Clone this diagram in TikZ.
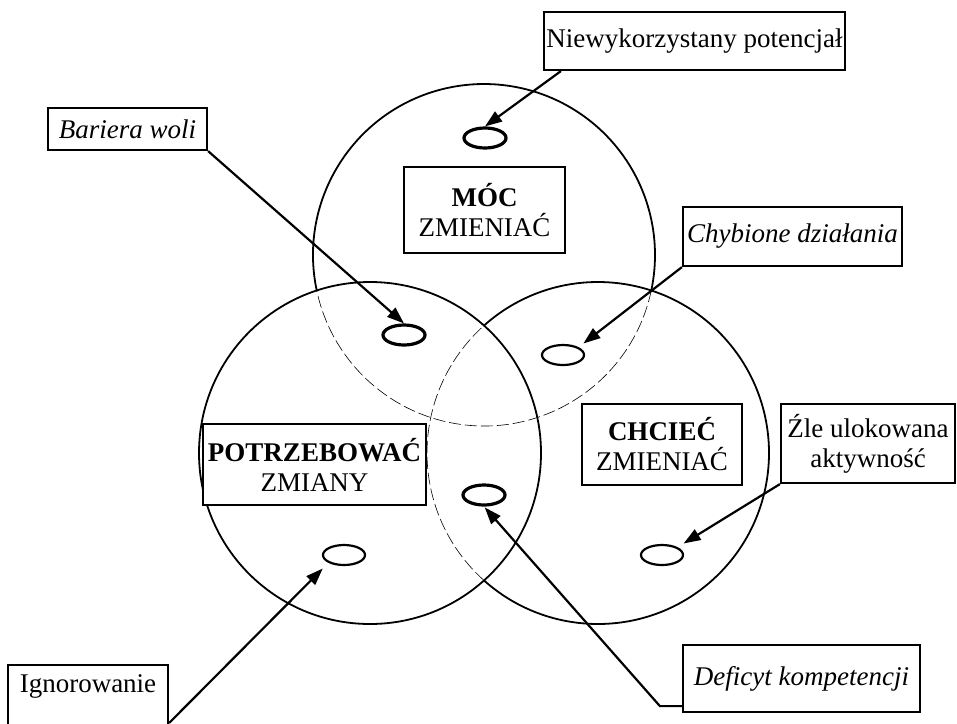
\documentclass[tikz,border=0pt]{standalone}
\usepackage{fontspec}
\setmainfont{Liberation Serif}
\usetikzlibrary{arrows.meta,shapes.geometric}
\begin{document}
\begin{tikzpicture}[x=1pt,y=-1pt,
  circ/.style={line width=1.8pt},
  hid/.style={line width=0.6pt, dash pattern=on 12pt off 4pt},
  lbl/.style={draw, line width=2.2pt, fill=white, font=\fontsize{27}{30}\selectfont, align=center, inner sep=0pt},
  tgt/.style={draw, ellipse, minimum width=42pt, minimum height=20pt, inner sep=0pt, line width=2.2pt},
  tgtb/.style={tgt, line width=3.2pt},
  arr/.style={line width=2.2pt, -{Triangle[length=17pt,width=12pt]}},
]
\clip (0,0) rectangle (957,723);
\coordinate (T) at (484,255);
\coordinate (L) at (370,453);
\coordinate (R) at (598,453);
\coordinate (ibot) at (0,723);
% circles
\draw[circ] (L) circle[radius=171];
\draw[circ] (R) ++(-131.81:171) arc[start angle=-131.81, end angle=131.81, radius=171];
\draw[hid] (R) ++(131.81:171) arc[start angle=131.81, end angle=228.19, radius=171];
\draw[circ] (T) ++(168.01:171) arc[start angle=168.01, end angle=371.99, radius=171];
\draw[hid] (T) ++(11.99:171) arc[start angle=11.99, end angle=168.01, radius=171];
% target ellipses
\node[tgtb] (e1) at (485,138) {};
\node[tgtb] (e2) at (404,335) {};
\node[tgt]  (e3) at (563,355) {};
\node[tgtb] (e4) at (484,495) {};
\node[tgt]  (e5) at (662,555) {};
\node[tgt]  (e6) at (344,555) {};
% labels
\node[lbl, minimum width=301pt, minimum height=58pt] (niew) at (694.5,41) {Niewykorzystany potencjał};
\node[lbl, minimum width=159pt, minimum height=42pt] (bar) at (127.5,129) {\itshape Bariera woli};
\node[lbl, minimum width=219pt, minimum height=59pt] (chyb) at (792.5,236.5) {\itshape Chybione działania};
\node[lbl, minimum width=161pt, minimum height=86pt] (moc) at (484.5,210) {{\bfseries MÓC}\\ZMIENIAĆ};
\node[lbl, minimum width=223pt, minimum height=81pt] (pot) at (314.5,464.5) {{\bfseries POTRZEBOWAĆ}\\ZMIANY};
\node[lbl, minimum width=160pt, minimum height=81pt] (chc) at (662,444.5) {{\bfseries CHCIEĆ}\\ZMIENIAĆ};
\node[lbl, minimum width=174pt, minimum height=79pt] (zle) at (868,443.5) {Źle ulokowana\\aktywność};
\node[lbl, anchor=base, text height=19pt, text depth=50pt, inner ysep=8pt, minimum width=160pt] (ign) at (88,692) {Ignorowanie};
\node[lbl, minimum width=237pt, minimum height=67pt] (def) at (801.5,678.5) {\itshape Deficyt kompetencji};
% arrows
\draw[arr] ([xshift=18pt]niew.south west) -- (e1.north);
\draw[arr] (bar.south east) -- (e2.north);
\draw[arr, shorten >=6pt] (chyb.south west) -- (e3.north east);
\draw[arr, shorten >=7pt] (zle.south west) -- (e5.north east);
\draw[arr, shorten >=8pt] (ign.east |- ibot) -- (e6.south west);
\draw[arr, shorten >=1pt] ([yshift=7pt]def.south west) -- ++(-22,0) -- (e4.south);
\end{tikzpicture}
\end{document}
